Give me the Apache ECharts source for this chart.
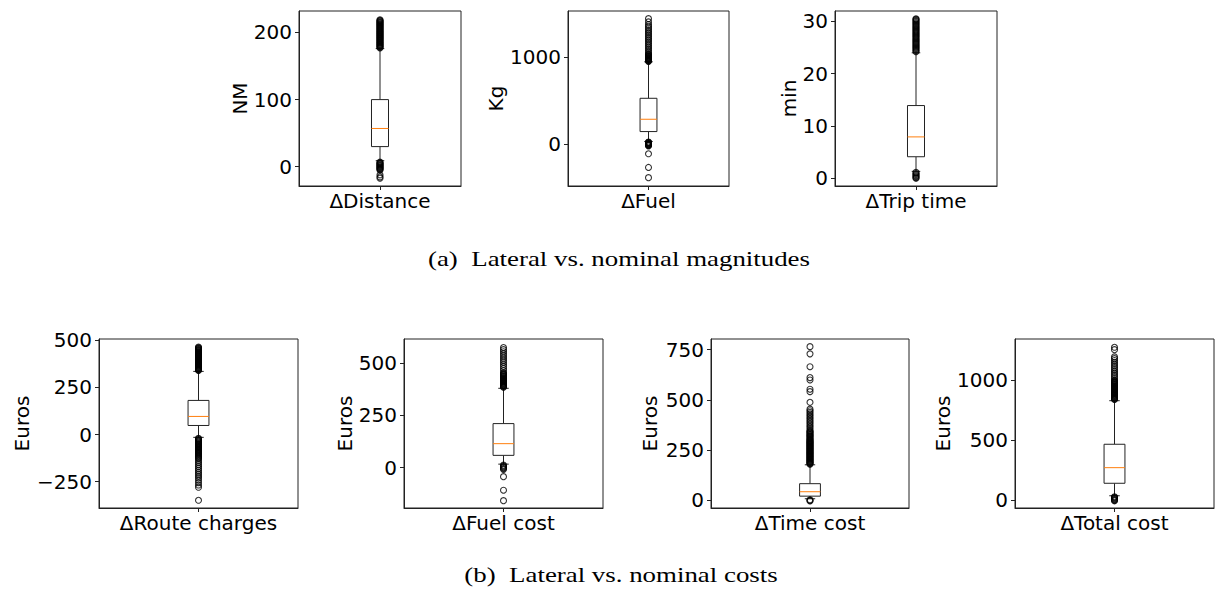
<!DOCTYPE html>
<html>
<head>
<meta charset="utf-8">
<script src="https://cdn.jsdelivr.net/npm/echarts@6.0.0/dist/echarts.min.js"></script>
<style>
  html, body { margin: 0; padding: 0; background: #fff; }
  #chart { width: 1215px; height: 601px; }
</style>
</head>
<body>
<div id="chart"></div>
<script>
// x labels and y units of the seven panels
var panelNames = ['ΔDistance', 'ΔFuel', 'ΔTrip time', 'ΔRoute charges', 'ΔFuel cost', 'ΔTime cost', 'ΔTotal cost'];
var unitNames = ['NM', 'Kg', 'min', 'Euros', 'Euros', 'Euros', 'Euros'];

// box stats: [lower whisker, q1, median, q3, upper whisker]
var statsDistance = [9, 30, 57, 100, 176];
var statsFuel = [30, 145, 287, 529, 950];
var statsTrip = [1.3, 4.1, 7.9, 13.9, 24.0];
var statsRoute = [-15, 48, 96, 181, 335];
var statsFuelCost = [17, 59, 115, 211, 380];
var statsTimeCost = [8, 21, 43, 83, 177];
var statsTotal = [38, 142, 272, 467, 830];

// fliers
var outDistance = [177, 178, 179, 180, 181, 182, 183, 184, 185, 186, 187, 188, 189, 190, 191, 192, 193, 194, 195, 196, 197, 198,
  199, 200, 201, 202, 203, 204, 205, 206, 207, 208, 209, 210, 211, 212, 213, 214, 215, 216, 217, 218, 219,
  7, 6, 5, 4, 3, 2, 1, 0, -1, -2, -3, -4, -5, -12, -15, -17];
var outFuel = [955, 960, 965, 970, 975, 980, 985, 990, 995, 1000, 1006, 1012, 1018, 1026, 1034, 1042, 1060, 1080, 1100, 1120,
  1140, 1160, 1180, 1200, 1220, 1240, 1260, 1280, 1300, 1320, 1340, 1360, 1380, 1410, 1448,
  25, 20, 15, 10, 5, 0, -5, -10, -15, -20, -111, -269, -387];
var outTrip = [24.2, 24.4, 24.6, 24.8, 25.0, 25.2, 25.4, 25.6, 25.8, 26.0, 26.2, 26.4, 26.6, 26.8, 27.0, 27.2, 27.4, 27.6, 27.8,
  28.0, 28.2, 28.4, 28.6, 28.8, 29.0, 29.2, 29.4, 29.6, 29.8, 30.0, 30.2, 30.4, 30.5,
  1.1, 0.9, 0.7, 0.5, 0.3, 0.1, 0.0];
var outRoute = [340, 343, 346, 349, 352, 355, 358, 361, 364, 367, 370, 373, 376, 379, 382, 385, 388, 391, 394, 397, 400, 403,
  406, 409, 412, 415, 418, 421, 424, 427, 430, 433, 436, 439, 442, 445, 448, 451, 454, 457, 460, 464,
  -20, -24, -28, -32, -36, -40, -44, -48, -52, -56, -60, -64, -68, -72, -76, -80, -84, -88, -92, -96, -100, -105, -110,
  -115, -120, -125, -130, -140, -150, -160, -170, -180, -190, -200, -210, -220, -230, -242, -255, -268, -280, -349];
var outFuelCost = [385, 388, 391, 394, 397, 400, 403, 406, 409, 412, 415, 418, 421, 424, 427, 430, 433, 436, 439, 442, 445,
  448, 451, 454, 465, 475, 485, 495, 505, 515, 525, 535, 545, 555, 565, 575,
  12, 8, 4, 0, -4, -8, -43, -108, -158];
var outTimeCost = [180, 183, 186, 189, 192, 195, 198, 201, 204, 207, 210, 213, 216, 219, 222, 225, 228, 231, 234, 237, 240,
  243, 246, 249, 252, 255, 258, 261, 264, 267, 270, 273, 276, 279, 282, 285, 288, 291, 294, 297, 300, 304, 308, 312,
  316, 320, 324, 328, 332, 336, 340, 344, 348,
  358, 366, 374, 382, 390, 398, 406, 414, 422, 430, 438, 446, 454,
  488, 541, 553, 599, 611, 665, 729, 765, 3, 0, -3];
var outTotal = [840, 845, 850, 855, 860, 865, 870, 875, 880, 885, 890, 895, 900, 905, 910, 915, 920, 925, 930, 935, 940,
  945, 950, 955, 960, 965, 970, 975, 980, 985, 990, 995, 1000,
  1015, 1030, 1045, 1060, 1075, 1090, 1105, 1120, 1135, 1150, 1165, 1180, 1195, 1255, 1275,
  30, 24, 18, 12, 6, 0, -4];

// y axis ranges and tick labels
var yMin = [-28.7, -483, -1.5, -390, -193, -38, -64];
var yMax = [232, 1536, 32, 507, 616, 803, 1344];
var yTicks = [[0, 100, 200], [0, 1000], [0, 10, 20, 30], [-250, 0, 250, 500], [0, 250, 500], [0, 250, 500, 750], [0, 500, 1000]];

var allStats = [statsDistance, statsFuel, statsTrip, statsRoute, statsFuelCost, statsTimeCost, statsTotal];
var allOut = [outDistance, outFuel, outTrip, outRoute, outFuelCost, outTimeCost, outTotal];

// panel rectangles [left, top, width, height] and y-name gaps
var layout = [
  [299, 11, 162, 175], [568, 11, 161, 175], [835, 11, 162, 175],
  [99, 339, 199, 169], [404, 339, 199, 169], [711, 339, 198, 169], [1015, 339, 199, 169]
];
var nameGaps = [49, 61, 33, 67, 49, 51, 62];

var FONT = 'DejaVu Sans';
var INK = '#000';

function renderBox(params, api) {
  var cat = api.value(0);
  var xc = api.coord([cat, 0])[0];
  var bw = api.size([1, 0])[0] * 0.105;
  var y = [1, 2, 3, 4, 5].map(function (d) { return api.coord([cat, api.value(d)])[1]; });
  var ln = { stroke: '#222', lineWidth: 1 };
  return {
    type: 'group',
    children: [
      { type: 'line', shape: { x1: xc, y1: y[4], x2: xc, y2: y[3] }, style: ln },
      { type: 'line', shape: { x1: xc, y1: y[1], x2: xc, y2: y[0] }, style: ln },
      { type: 'line', shape: { x1: xc - bw / 4, y1: y[4], x2: xc + bw / 4, y2: y[4] }, style: ln },
      { type: 'line', shape: { x1: xc - bw / 4, y1: y[0], x2: xc + bw / 4, y2: y[0] }, style: ln },
      { type: 'rect', shape: { x: xc - bw / 2, y: y[3], width: bw, height: y[1] - y[3] },
        style: { fill: '#fff', stroke: '#222', lineWidth: 1 } },
      { type: 'line', shape: { x1: xc - bw / 2, y1: y[2], x2: xc + bw / 2, y2: y[2] },
        style: { stroke: '#ff7f0e', lineWidth: 1 } }
    ]
  };
}

function tickText(v) {
  return v < 0 ? '\u2212' + (-v) : String(v);
}

var grids = [], xAxes = [], yAxes = [], series = [];
for (var i = 0; i < panelNames.length; i++) {
  var r = layout[i];
  grids.push({
    left: r[0], top: r[1], width: r[2], height: r[3],
    show: true, borderColor: '#222', borderWidth: 1, backgroundColor: 'transparent'
  });
  xAxes.push({
    type: 'category', gridIndex: i, data: [panelNames[i]],
    axisLine: { show: true, onZero: false, lineStyle: { color: '#222', width: 1 } },
    axisTick: { show: true, alignWithLabel: true, length: 4, lineStyle: { color: '#222' } },
    axisLabel: { color: INK, fontSize: 20, fontFamily: FONT, margin: 5, interval: 0 },
    splitLine: { show: false }
  });
  yAxes.push({
    type: 'value', gridIndex: i, min: yMin[i], max: yMax[i],
    name: unitNames[i], nameLocation: 'middle', nameRotate: 90, nameGap: nameGaps[i],
    nameTextStyle: { color: INK, fontSize: 20, fontFamily: FONT },
    axisLine: { show: true, onZero: false, lineStyle: { color: '#222', width: 1 } },
    axisTick: { show: true, length: 4, customValues: yTicks[i], lineStyle: { color: '#222' } },
    axisLabel: { color: INK, fontSize: 20, fontFamily: FONT, margin: 7, customValues: yTicks[i], formatter: tickText },
    splitLine: { show: false }
  });
  series.push({
    type: 'custom', xAxisIndex: i, yAxisIndex: i, silent: true, z: 2,
    renderItem: renderBox,
    encode: { x: 0, y: [1, 2, 3, 4, 5] },
    data: [[0].concat(allStats[i])]
  });
  series.push({
    type: 'scatter', xAxisIndex: i, yAxisIndex: i, silent: true, z: 3,
    symbol: 'circle', symbolSize: 6,
    itemStyle: { color: 'rgba(0,0,0,0)', borderColor: '#000', borderWidth: 1.1 },
    data: allOut[i].map(function (v) { return [0, v]; })
  });
}

var chart = echarts.init(document.getElementById('chart'), null, { renderer: 'svg' });
chart.setOption({
  animation: false,
  backgroundColor: '#fff',
  grid: grids,
  xAxis: xAxes,
  yAxis: yAxes,
  series: series,
  graphic: [
    { type: 'text', x: 619, y: 259, scaleX: 1.28,
      style: { text: '(a)\u2002Lateral vs. nominal magnitudes', fill: INK, font: '21px "Liberation Serif"', align: 'center', verticalAlign: 'middle' } },
    { type: 'text', x: 621, y: 575, scaleX: 1.28,
      style: { text: '(b)\u2002Lateral vs. nominal costs', fill: INK, font: '21px "Liberation Serif"', align: 'center', verticalAlign: 'middle' } }
  ]
});
</script>
</body>
</html>
